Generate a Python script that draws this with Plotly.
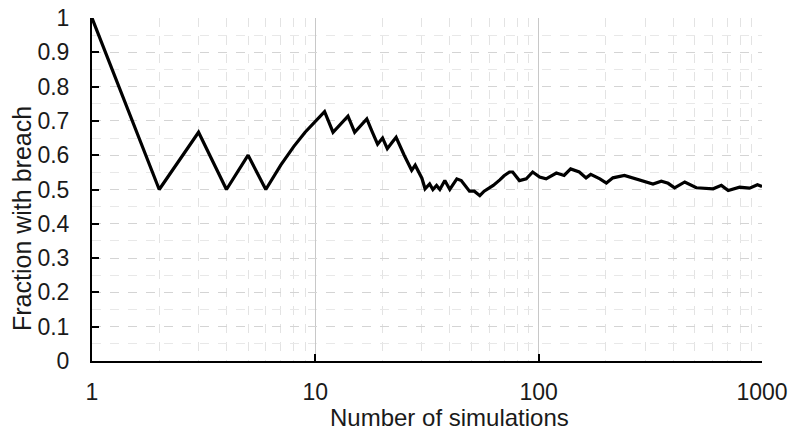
import plotly.graph_objects as go

# Number of simulations (x) and running fraction with breach (y)
n_sims = [1, 2, 3, 4, 5, 6, 7, 8, 9, 10, 11, 12, 13, 14, 15, 16, 17, 18, 19, 20,
          21, 22, 23, 25, 27, 28, 30, 31, 32.5, 33.6, 34.9, 36.1, 38, 40, 43, 45,
          49, 51.5, 54.5, 57, 62.6, 67, 70, 74, 76.5, 82, 88, 94, 101, 108, 114,
          120, 130, 139, 152, 163, 171, 188, 201, 215, 242, 273, 303, 325, 354,
          380, 406, 451, 508, 565, 604, 658, 706, 794, 880, 954, 1000]
frac_breach = [1.0, 0.5, 0.667, 0.5, 0.6, 0.5, 0.571, 0.625, 0.667, 0.7, 0.727,
               0.667, 0.692, 0.714, 0.667, 0.688, 0.706, 0.667, 0.632, 0.65,
               0.619, 0.636, 0.652, 0.6, 0.556, 0.571, 0.533, 0.502, 0.516, 0.5,
               0.512, 0.5, 0.526, 0.5, 0.531, 0.526, 0.495, 0.495, 0.482, 0.495,
               0.512, 0.528, 0.54, 0.551, 0.551, 0.526, 0.531, 0.551, 0.536,
               0.531, 0.54, 0.548, 0.541, 0.56, 0.551, 0.534, 0.544, 0.531, 0.519,
               0.534, 0.541, 0.531, 0.524, 0.516, 0.524, 0.518, 0.505, 0.522,
               0.505, 0.504, 0.502, 0.512, 0.497, 0.507, 0.504, 0.514, 0.509]

x_ticks = [1, 10, 100, 1000]
x_tick_labels = ["1", "10", "100", "1000"]
x_minor = [m * d for d in (1, 10, 100) for m in range(2, 10)]

x_title = "Number of simulations"
y_title = "Fraction with breach"

fig = go.Figure()
fig.add_trace(go.Scatter(x=n_sims, y=frac_breach, mode="lines",
                         line=dict(color="black", width=3.2), showlegend=False))

family = "Liberation Sans, Arial, sans-serif"
font = dict(family=family, size=23, color="#1a1a1a")

fig.update_layout(
    width=790, height=430,
    margin=dict(l=92, r=28, t=18, b=69, autoexpand=False),
    paper_bgcolor="white", plot_bgcolor="white",
    font=font,
    xaxis=dict(
        type="log", range=[0, 3], automargin=False,
        tickvals=x_ticks, ticktext=x_tick_labels,
        ticks="inside", ticklen=7, tickwidth=2, tickcolor="black",
        showline=True, linecolor="black", linewidth=2,
        showgrid=True, gridcolor="#c8c8c8", gridwidth=1,
        minor=dict(tickvals=x_minor, showgrid=True, gridcolor="#e3e3e3",
                   griddash="dash", gridwidth=1, ticks=""),
        ticklabelstandoff=9, ticklabeloverflow="allow",
        zeroline=False,
    ),
    yaxis=dict(
        range=[0, 1], dtick=0.1, tick0=0, automargin=False,
        ticks="inside", ticklen=7, tickwidth=2, tickcolor="black",
        showline=True, linecolor="black", linewidth=2,
        showgrid=True, gridcolor="#d4d4d4", gridwidth=1, griddash="dash",
        minor=dict(dtick=0.05, showgrid=True, gridcolor="#e8e8e8", gridwidth=1,
                   ticks=""),
        ticklabelstandoff=16, ticklabeloverflow="allow",
        zeroline=False,
    ),
    annotations=[
        dict(text=x_title, xref="paper", yref="paper", x=0.534, y=0,
             yshift=-56, xanchor="center", yanchor="middle", showarrow=False,
             font=dict(family=family, size=24, color="#1a1a1a")),
        dict(text=y_title, xref="paper", yref="paper", x=0, y=0.414,
             xshift=-70, xanchor="center", yanchor="middle", showarrow=False,
             textangle=-90, font=dict(family=family, size=25, color="#1a1a1a")),
    ],
)

fig.write_html(
    "out.html",
    config={"displayModeBar": False},
    post_script="document.body.style.margin='0';document.body.style.overflow='hidden';",
)
